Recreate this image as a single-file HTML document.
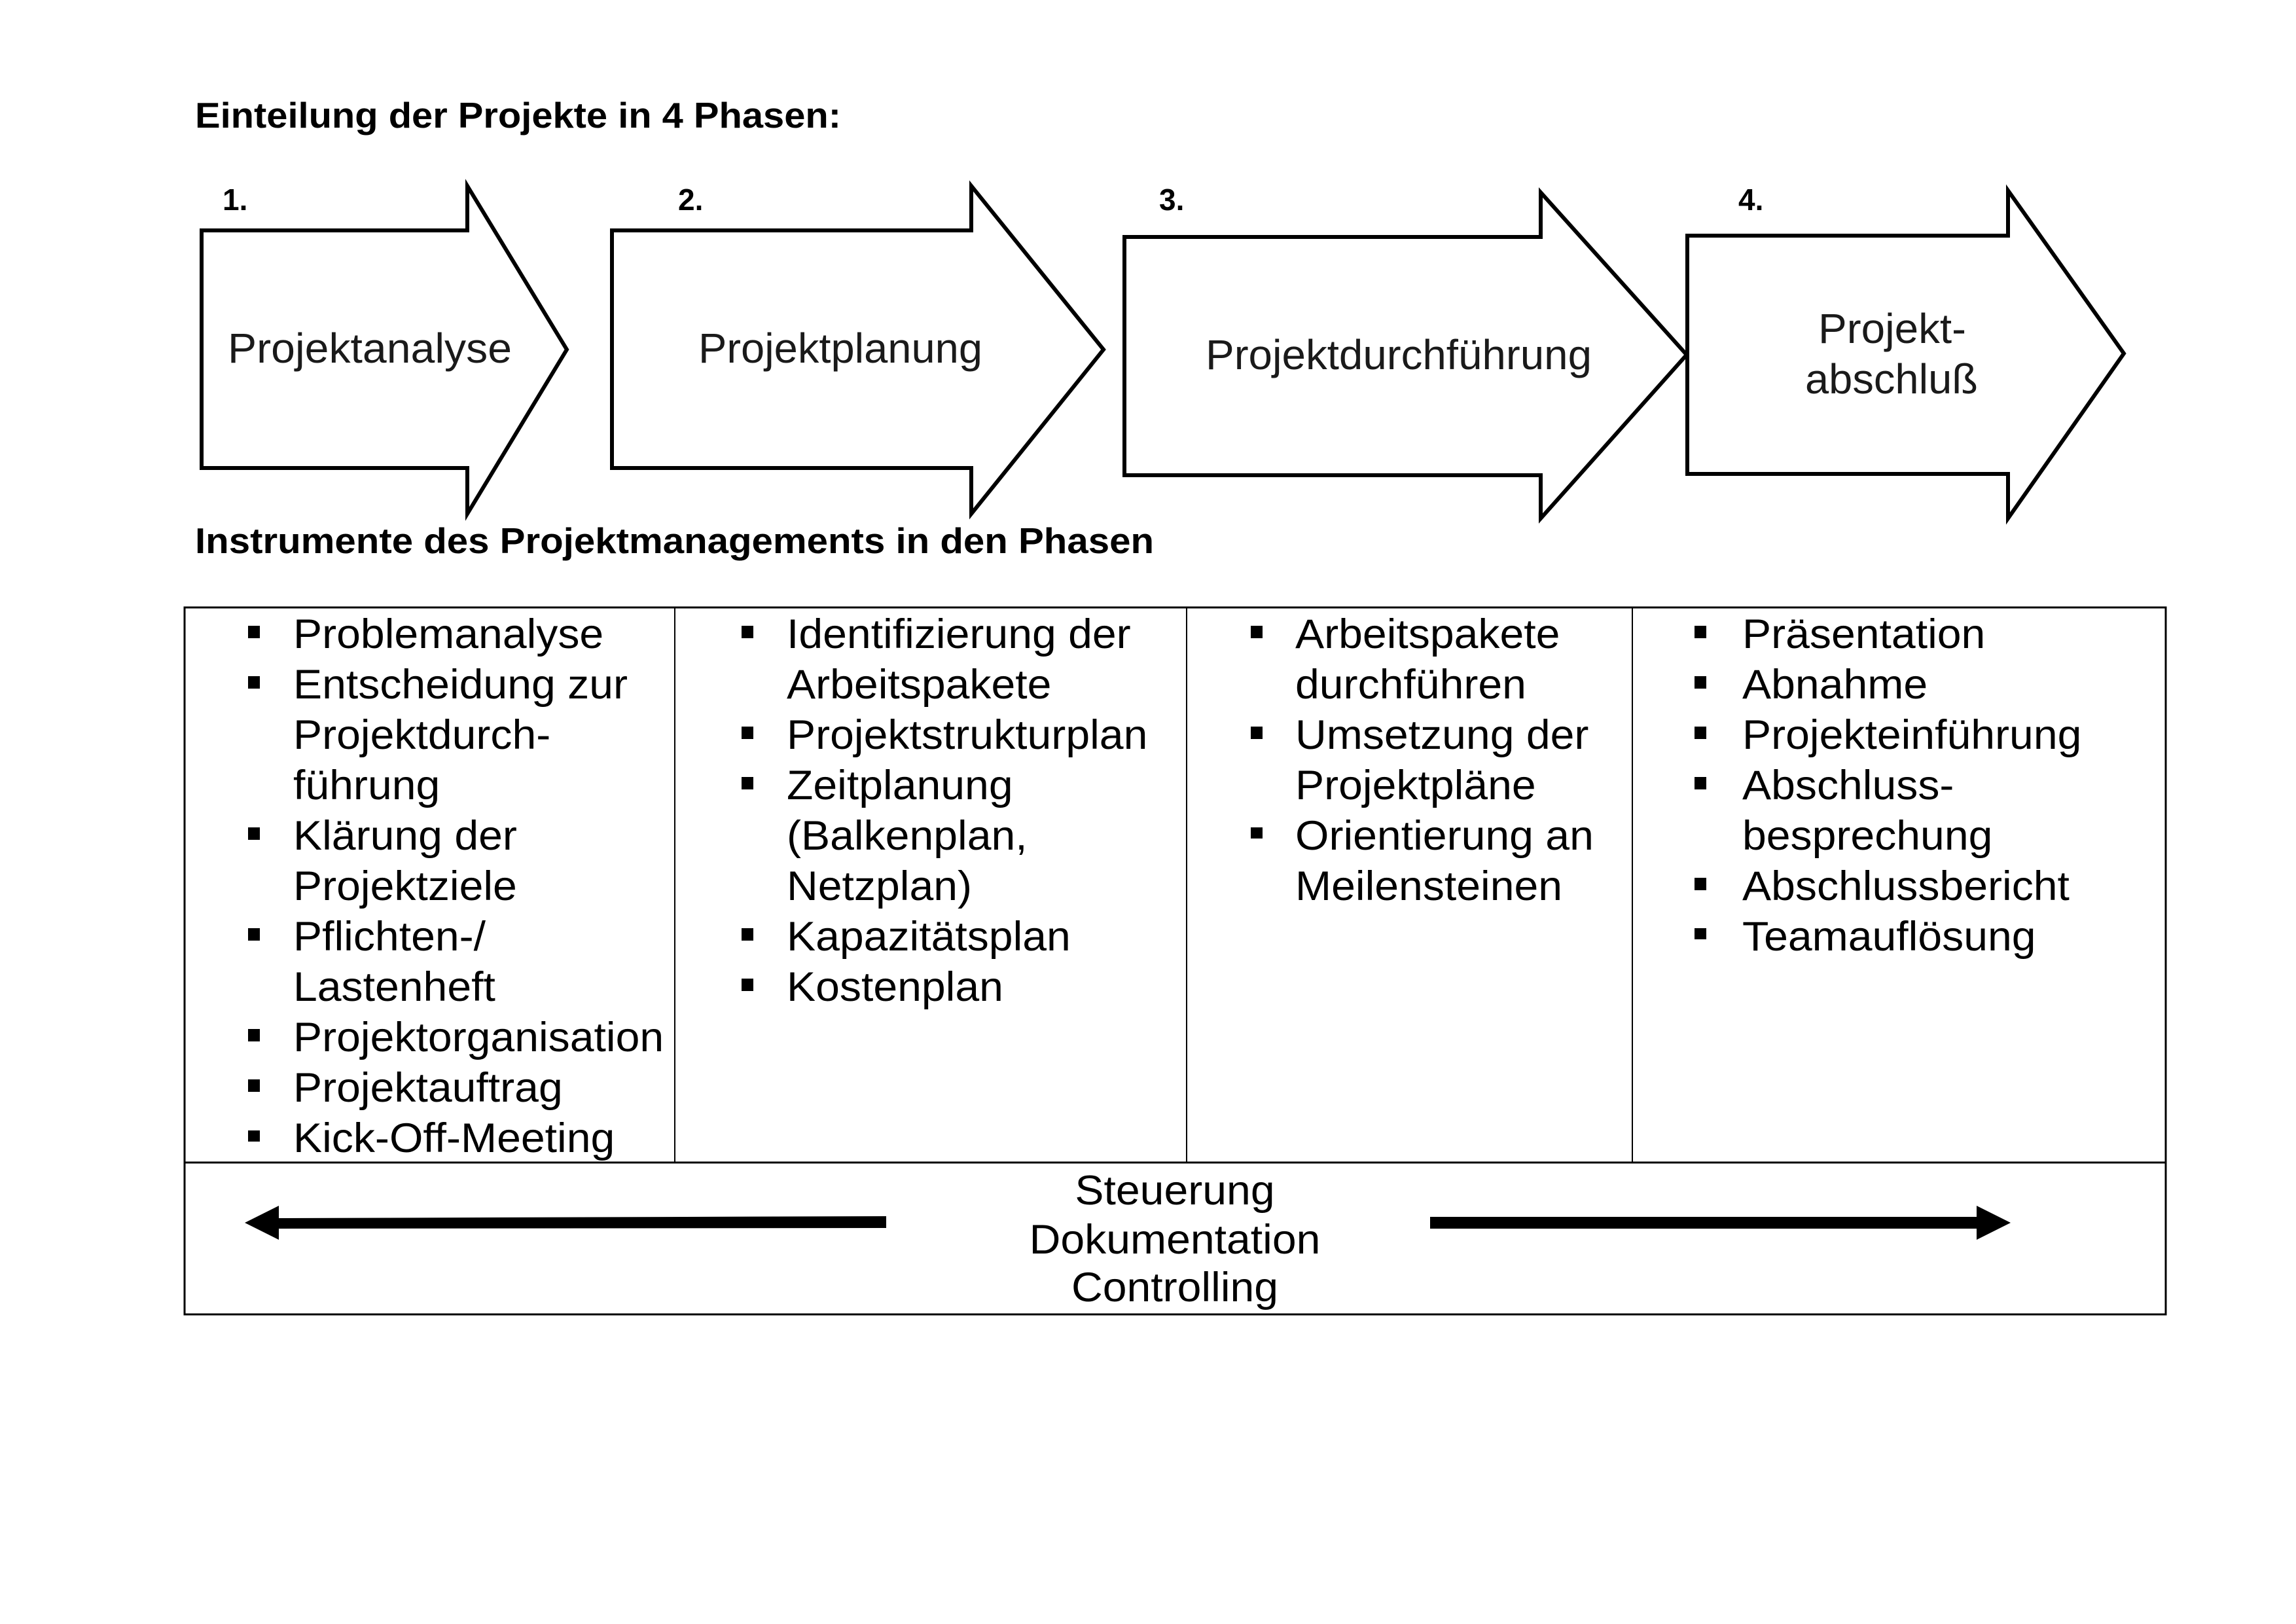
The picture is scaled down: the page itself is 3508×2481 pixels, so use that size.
<!DOCTYPE html>
<html><head><meta charset="utf-8"><style>
html,body{margin:0;padding:0;background:#fff;}
svg{display:block;}
.t{font-family:"Liberation Sans",sans-serif;font-size:63px;fill:#000;}
.b{font-family:"Liberation Sans",sans-serif;font-weight:bold;fill:#000;}
.l{font-family:"Liberation Sans",sans-serif;fill:#1a1a1a;}
</style></head><body>
<svg width="3508" height="2481" viewBox="0 0 3508 2481" xmlns="http://www.w3.org/2000/svg">
<rect width="3508" height="2481" fill="#fff"/>
<text class="b" x="298" y="195" font-size="55" textLength="987" lengthAdjust="spacingAndGlyphs">Einteilung der Projekte in 4 Phasen:</text>
<text class="b" x="340" y="321" font-size="46">1.</text>
<text class="b" x="1036" y="321" font-size="46">2.</text>
<text class="b" x="1771" y="321" font-size="46">3.</text>
<text class="b" x="2656" y="321" font-size="46">4.</text>

<g fill="#fff" stroke="#000" stroke-width="6" stroke-linejoin="miter">
<polygon points="308,352 714,352 714,284 866,534 714,785 714,715 308,715"/>
<polygon points="935,352 1484,352 1484,284 1686,534 1484,785 1484,715 935,715"/>
<polygon points="1718,362 2354,362 2354,294 2577,542 2354,792 2354,726 1718,726"/>
<polygon points="2578,360 3068,360 3068,291 3245,540 3068,792 3068,724 2578,724"/>
</g>
<text class="l" x="348" y="554" font-size="64" textLength="434" lengthAdjust="spacingAndGlyphs">Projektanalyse</text>
<text class="l" x="1067" y="554" font-size="64" textLength="434" lengthAdjust="spacingAndGlyphs">Projektplanung</text>
<text class="l" x="1842" y="564" font-size="64" textLength="590" lengthAdjust="spacingAndGlyphs">Projektdurchführung</text>
<text class="l" x="2778" y="524" font-size="64" textLength="226" lengthAdjust="spacingAndGlyphs">Projekt-</text>
<text class="l" x="2758" y="601" font-size="64" textLength="264" lengthAdjust="spacingAndGlyphs">abschluß</text>

<text class="b" x="298" y="845" font-size="55" textLength="1465" lengthAdjust="spacingAndGlyphs">Instrumente des Projektmanagements in den Phasen</text>

<!-- table -->
<rect x="282" y="928" width="3027" height="1080" fill="none" stroke="#000" stroke-width="3"/>
<line x1="282" y1="1776" x2="3309" y2="1776" stroke="#000" stroke-width="3"/>
<line x1="1031" y1="928" x2="1031" y2="1776" stroke="#000" stroke-width="2"/>
<line x1="1813" y1="928" x2="1813" y2="1776" stroke="#000" stroke-width="2"/>
<line x1="2494" y1="928" x2="2494" y2="1776" stroke="#000" stroke-width="2"/>

<g fill="#000">
<!-- col1 bullets -->
<rect x="379" y="956" width="18" height="19"/>
<rect x="379" y="1033" width="18" height="19"/>
<rect x="379" y="1264" width="18" height="19"/>
<rect x="379" y="1418" width="18" height="19"/>
<rect x="379" y="1572" width="18" height="19"/>
<rect x="379" y="1649" width="18" height="19"/>
<rect x="379" y="1727" width="18" height="17"/>
<!-- col2 -->
<rect x="1133" y="956" width="18" height="19"/>
<rect x="1133" y="1110" width="18" height="19"/>
<rect x="1133" y="1187" width="18" height="19"/>
<rect x="1133" y="1418" width="18" height="19"/>
<rect x="1133" y="1495" width="18" height="19"/>
<!-- col3 -->
<rect x="1911" y="956" width="18" height="19"/>
<rect x="1911" y="1110" width="18" height="19"/>
<rect x="1911" y="1264" width="18" height="17"/>
<!-- col4 -->
<rect x="2589" y="956" width="18" height="19"/>
<rect x="2589" y="1033" width="18" height="19"/>
<rect x="2589" y="1110" width="18" height="19"/>
<rect x="2589" y="1187" width="18" height="19"/>
<rect x="2589" y="1341" width="18" height="19"/>
<rect x="2589" y="1418" width="18" height="17"/>
</g>

<g transform="translate(448,0) scale(1.05,1)" class="t">
<text x="0" y="990">Problemanalyse</text>
<text x="0" y="1067">Entscheidung zur</text>
<text x="0" y="1144">Projektdurch-</text>
<text x="0" y="1221">führung</text>
<text x="0" y="1298">Klärung der</text>
<text x="0" y="1375">Projektziele</text>
<text x="0" y="1452">Pflichten-/</text>
<text x="0" y="1529">Lastenheft</text>
<text x="0" y="1606">Projektorganisation</text>
<text x="0" y="1683">Projektauftrag</text>
<text x="0" y="1760">Kick-Off-Meeting</text>
</g>
<g transform="translate(1202,0) scale(1.05,1)" class="t">
<text x="0" y="990">Identifizierung der</text>
<text x="0" y="1067">Arbeitspakete</text>
<text x="0" y="1144">Projektstrukturplan</text>
<text x="0" y="1221">Zeitplanung</text>
<text x="0" y="1298">(Balkenplan,</text>
<text x="0" y="1375">Netzplan)</text>
<text x="0" y="1452">Kapazitätsplan</text>
<text x="0" y="1529">Kostenplan</text>
</g>
<g transform="translate(1979,0) scale(1.05,1)" class="t">
<text x="0" y="990">Arbeitspakete</text>
<text x="0" y="1067">durchführen</text>
<text x="0" y="1144">Umsetzung der</text>
<text x="0" y="1221">Projektpläne</text>
<text x="0" y="1298">Orientierung an</text>
<text x="0" y="1375">Meilensteinen</text>
</g>
<g transform="translate(2662,0) scale(1.05,1)" class="t">
<text x="0" y="990">Präsentation</text>
<text x="0" y="1067">Abnahme</text>
<text x="0" y="1144">Projekteinführung</text>
<text x="0" y="1221">Abschluss-</text>
<text x="0" y="1298">besprechung</text>
<text x="0" y="1375">Abschlussbericht</text>
<text x="0" y="1452">Teamauflösung</text>
</g>

<g transform="translate(1795,0) scale(1.05,1)" class="t" text-anchor="middle">
<text x="0" y="1840">Steuerung</text>
<text x="0" y="1915">Dokumentation</text>
<text x="0" y="1988">Controlling</text>
</g>

<!-- bottom arrows -->
<polygon fill="#000" points="374,1868 426,1842 426,1861 1354,1858 1354,1876 426,1877 426,1894"/>
<polygon fill="#000" points="2185,1859 3020,1859 3020,1842 3072,1868 3020,1894 3020,1877 2185,1877"/>
</svg>
</body></html>
